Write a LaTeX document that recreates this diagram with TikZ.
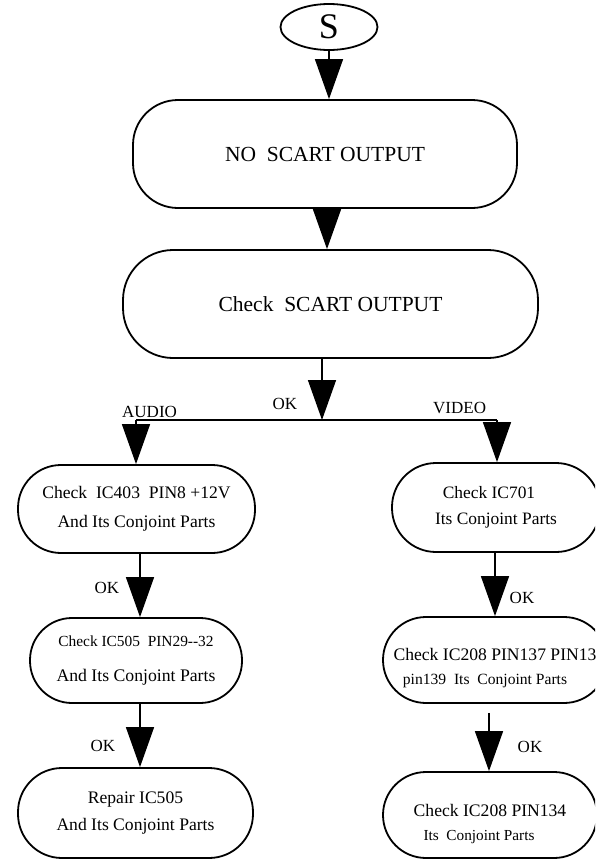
\documentclass[tikz,border=0pt]{standalone}
\usepackage{fontspec}
\setmainfont{Liberation Serif}
\usetikzlibrary{arrows.meta,shapes.geometric}
\tikzset{
  box/.style={draw,line width=1.8pt,align=center,inner sep=0pt},
  conn/.style={line width=1.5pt,-{Triangle[width=28pt,length=40pt]}},
  plain/.style={line width=1.5pt},
  lbl/.style={font=\fontsize{17}{20}\selectfont,inner sep=0pt},
  big/.style={font=\fontsize{21.5}{26}\selectfont},
}
\begin{document}
\begin{tikzpicture}[x=1pt,y=-1pt]
\useasboundingbox (0,0) rectangle (595,860);
\clip (0,0) rectangle (595,860);
\fill[white] (0,0) rectangle (595,860);
% start
\node[draw,ellipse,line width=1.8pt,minimum width=97pt,minimum height=46pt,inner sep=0pt,font=\fontsize{36}{40}\selectfont] (S) at (329,27) {S};
% main boxes
\node[box,big,rounded corners=45pt,minimum width=384pt,minimum height=108pt] (b1) at (325,154) {NO\ \ SCART OUTPUT};
\node[box,big,rounded corners=50pt,minimum width=415pt,minimum height=108pt] (b2) at (330.5,304) {Check\ \ SCART OUTPUT};
% left column
\node[box,rounded corners=43pt,minimum width=237pt,minimum height=88pt,font=\fontsize{17.6}{29}\selectfont] (L1) at (136.5,509) {Check\ \ IC403\ \ PIN8 +12V\\And Its Conjoint Parts};
\node[box,rounded corners=42pt,minimum width=212pt,minimum height=85pt] (L2) at (136,660.5) {{\fontsize{15.4}{18}\selectfont Check IC505\ \ PIN29-{}-32}\\[22pt]{\fontsize{17.7}{20}\selectfont And Its Conjoint Parts}};
\node[box,rounded corners=44pt,minimum width=235pt,minimum height=90pt,font=\fontsize{17.6}{27}\selectfont] (L3) at (135.5,813) {Repair IC505\\And Its Conjoint Parts};
% right column
\node[box,rounded corners=44pt,minimum width=208pt,minimum height=89pt,font=\fontsize{17.4}{26}\selectfont] (R1) at (496,507.5) {Check IC701\hspace*{14pt}\\Its Conjoint Parts};
\node[box,rounded corners=43pt,minimum width=224pt,minimum height=86pt] (R2) at (495,660) {\rule{0pt}{28pt}{\fontsize{17.6}{20}\selectfont Check IC208 PIN137 PIN13}\\[12pt]{\fontsize{15.6}{18}\selectfont pin139\ \ Its\ \ Conjoint Parts\hspace*{20pt}}};
\node[box,rounded corners=43pt,minimum width=214pt,minimum height=86pt] (R3) at (490,815) {\rule{0pt}{30pt}{\fontsize{17.6}{20}\selectfont Check IC208 PIN134}\\[12pt]{\fontsize{15.3}{18}\selectfont Its\ \ Conjoint Parts\hspace*{22pt}}};
% junction coordinates
\coordinate (j) at (322,420);
\coordinate (ja) at (136,420);
\coordinate (jv) at (497,420);
% connectors
\draw[conn] (S.south) -- (S.south |- b1.north);
\draw[conn] ([xshift=2pt]b1.south) -- ([xshift=2pt]b1.south |- b2.north);
\draw[conn] (j |- b2.south) -- (j);
\draw[plain] (ja) -- (jv);
\draw[conn] (ja) -- (ja |- L1.north);
\draw[conn] (jv) -- (jv |- R1.north);
\draw[conn] ([xshift=3.5pt]L1.south) -- ([xshift=3.5pt]L1.south |- L2.north);
\draw[conn] ([xshift=4pt]L2.south) -- ([xshift=4pt]L2.south |- L3.north);
\draw[conn] ([xshift=-1pt]R1.south) -- ([xshift=-1pt]R1.south |- R2.north);
\draw[conn,shorten <=9pt] ([xshift=-6pt]R2.south) -- ([xshift=-6pt]R2.south |- R3.north);
% labels
\node[lbl,anchor=base] (ok0) at (285,409) {OK};
\node[lbl,anchor=base west] (audio) at (122,417) {AUDIO};
\node[lbl,anchor=base west] (video) at (433,413) {VIDEO};
\node[lbl] (ok1) at (107,588) {OK};
\node[lbl] (ok2) at (103,746) {OK};
\node[lbl] (ok3) at (522,598) {OK};
\node[lbl] (ok4) at (530,747) {OK};
\end{tikzpicture}
\end{document}
